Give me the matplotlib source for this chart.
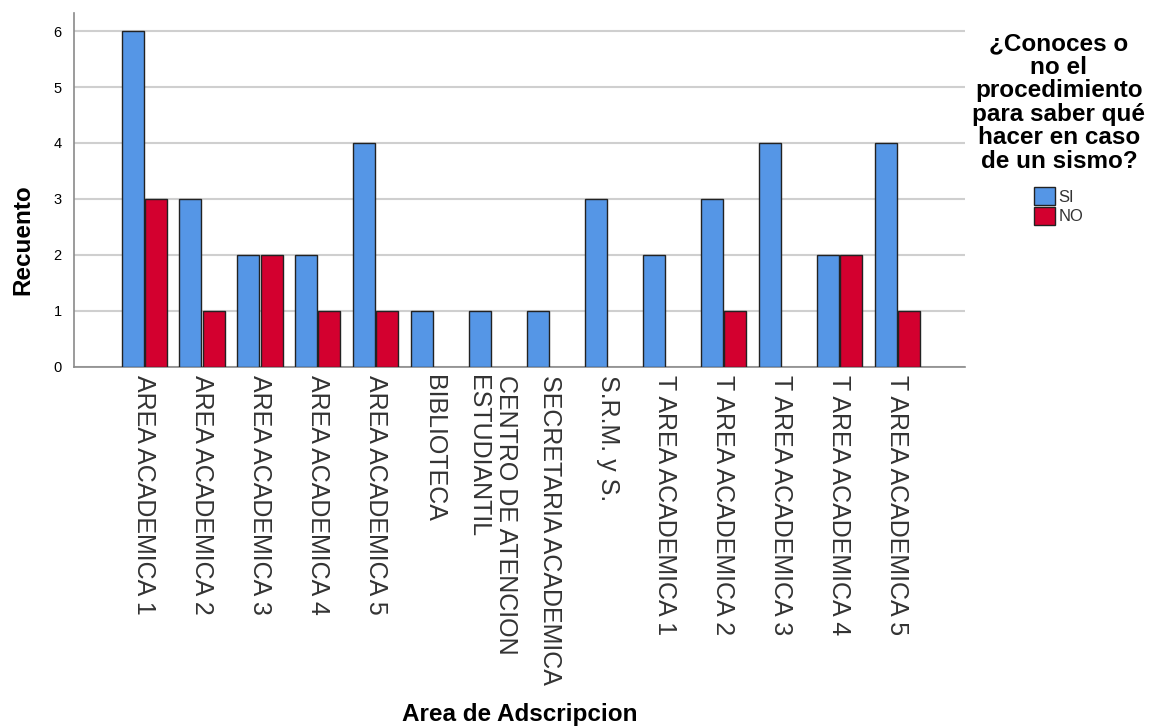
import numpy as np
from matplotlib import pyplot as plt
from matplotlib.patches import Patch

#data
areas = ["AREA ACADEMICA 1", "AREA ACADEMICA 2", "AREA ACADEMICA 3",
         "AREA ACADEMICA 4", "AREA ACADEMICA 5", "BIBLIOTECA",
         "CENTRO DE ATENCION\nESTUDIANTIL", "SECRETARIA ACADEMICA", "S.R.M. y S.",
         "T AREA ACADEMICA 1", "T AREA ACADEMICA 2", "T AREA ACADEMICA 3",
         "T AREA ACADEMICA 4", "T AREA ACADEMICA 5"]
si = [6, 3, 2, 2, 4, 1, 1, 1, 3, 2, 3, 4, 2, 4]
no = [3, 1, 2, 1, 1, 0, 0, 0, 0, 0, 1, 0, 2, 1]

blue = "#5596E6"
red = "#D3002F"

plt.rcParams['font.family'] = ['Liberation Sans', 'DejaVu Sans']

fig = plt.figure(figsize=(11.51, 7.27), dpi=100)
ax = fig.add_axes([0.0643, 0.4952, 0.7741, 0.4868])

x = np.arange(len(areas))
w = 0.38
si_a = np.array(si, dtype=float)
no_a = np.array(no, dtype=float)
# SPSS leaves out empty bars
si_a[si_a == 0] = np.nan
no_a[no_a == 0] = np.nan
ax.bar(x - w / 2 - 0.01, si_a, w, color=blue, edgecolor="#222222", linewidth=1, zorder=3)
ax.bar(x + w / 2 + 0.01, no_a, w, color=red, edgecolor="#222222", linewidth=1, zorder=3)

ax.set_xlim(-1.21, 14.17)
ax.set_ylim(0, 6.32)
ax.set_yticks(range(7))
ax.yaxis.grid(True, color="#cfcfcf", linewidth=1.5, zorder=0)
ax.tick_params(axis="y", length=0, labelsize=10.5, pad=9)
ax.tick_params(axis="x", length=0, pad=6)
ax.set_xticks(x)
ax.set_xticklabels(areas, rotation=270, fontsize=18, ha="center", va="top",
                   multialignment="left", color="#333333")
for s in ["top", "right"]:
    ax.spines[s].set_visible(False)
for s in ["left", "bottom"]:
    ax.spines[s].set_color("#8a8a8a")
    ax.spines[s].set_linewidth(1.2)

fig.text(0.02, 0.6705, "Recuento", rotation=90, fontsize=17.5, fontweight="bold",
         ha="center", va="center")
fig.text(0.4515, 1 - 714 / 727, "Area de Adscripcion", fontsize=17.5, fontweight="bold",
         ha="center", va="center")

#legend
handles = [Patch(facecolor=blue, edgecolor="#222222", label="SI"),
           Patch(facecolor=red, edgecolor="#222222", label="NO")]
leg = fig.legend(handles=handles,
                 title="¿Conoces o\nno el\nprocedimiento\npara saber qué\nhacer en caso\nde un sismo?",
                 loc="upper center", bbox_to_anchor=(1059 / 1151, 1 - 24 / 727),
                 frameon=False, fontsize=12, handlelength=1.25, handleheight=1.3,
                 handletextpad=0.2, labelspacing=0.1, borderpad=0)
leg.get_title().set_fontsize(17.5)
leg.get_title().set_fontweight("bold")
leg.get_title().set_multialignment("center")
leg.get_title().set_linespacing(1.03)
leg._legend_box.sep = 10
for t in leg.get_texts():
    t.set_color("#333333")

plt.savefig("out.png", dpi=100)
